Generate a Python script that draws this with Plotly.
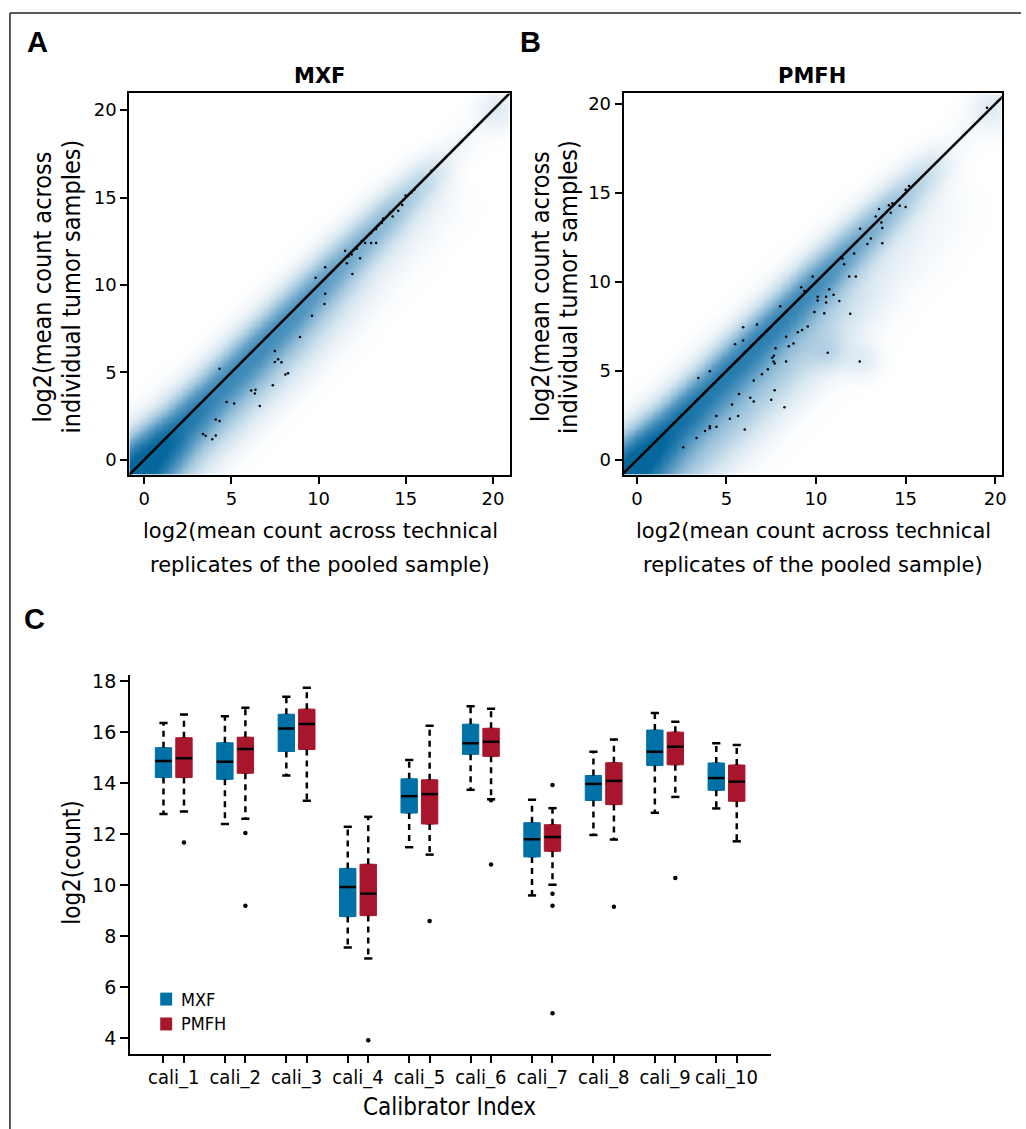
import numpy as np
import plotly.graph_objects as go

W, H = 1026, 1129

# ---------------- Panel A / B: density bands ----------------
band_pos = [-1, 0, 1, 2, 4, 6, 8, 10, 12, 14, 16, 17.5, 19, 21]
mxf_core = [1.0, 1.0, 0.88, 0.75, 0.62, 0.6, 0.58, 0.54, 0.48, 0.4, 0.26, 0.08, 0.02, 0.02]
mxf_sd = [1.6, 1.6, 1.5, 1.4, 1.35, 1.35, 1.3, 1.3, 1.25, 1.2, 1.1, 1.0, 1.0, 1.0]
mxf_shoulder = [0.3, 0.3, 0.3, 0.28, 0.28, 0.27, 0.24, 0.17, 0.1, 0.08, 0.05, 0.0, 0.0, 0.0]
mxf_shoulder_off, mxf_shoulder_sd = -2.2, 1.6
mxf_blobs = [(20.2, 20.0, 0.12, 0.8)]

pmfh_core = [1.0, 1.0, 0.9, 0.8, 0.7, 0.68, 0.66, 0.62, 0.53, 0.42, 0.25, 0.06, 0.02, 0.02]
pmfh_sd = [1.6, 1.6, 1.5, 1.4, 1.35, 1.35, 1.3, 1.3, 1.25, 1.2, 1.1, 1.0, 1.0, 1.0]
pmfh_shoulder = [0.35, 0.35, 0.35, 0.35, 0.35, 0.33, 0.3, 0.22, 0.12, 0.08, 0.04, 0.0, 0.0, 0.0]
pmfh_shoulder_off, pmfh_shoulder_sd = -2.8, 1.9
pmfh_blobs = [(10.8, 6.0, 0.12, 0.7), (12.6, 5.6, 0.12, 0.7), (19.8, 19.8, 0.12, 0.9)]

# sparse points (low-density genes)
mxf_px = [4.32, 4.72, 5.16, 4.10, 4.32, 3.37, 3.52, 3.90, 4.10, 6.13, 6.38, 6.34, 6.63, 7.37, 7.49, 7.49,
          7.68, 7.87, 8.10, 8.25, 8.93, 9.62, 9.83, 10.38, 10.38, 10.34, 11.52, 11.71, 11.90, 11.62, 11.94,
          12.38, 12.19, 12.48, 12.67, 13.01, 13.30, 13.30, 13.01, 13.43, 13.71, 13.62, 14.10, 14.25, 14.57,
          14.80, 14.99, 15.33, 15.49, 16.48]
mxf_py = [5.21, 3.31, 3.22, 2.31, 2.22, 1.48, 1.37, 1.18, 1.39, 3.97, 4.01, 3.79, 3.07, 4.27, 6.23, 5.60,
          5.75, 5.58, 4.88, 4.95, 7.02, 8.24, 10.41, 11.02, 9.50, 8.91, 11.96, 11.63, 11.74, 11.24, 10.63,
          11.53, 12.07, 12.51, 12.40, 12.98, 13.20, 12.40, 12.40, 13.42, 13.81, 13.55, 14.14, 13.92, 14.25,
          14.58, 15.12, 15.29, 15.45, 16.54]
pmfh_px = [2.59, 3.33, 3.80, 4.07, 4.07, 4.44, 4.44, 3.43, 4.07, 5.19, 5.31, 5.70, 5.65, 6.02, 5.48, 5.93,
           5.93, 6.70, 6.33, 6.52, 6.52, 6.98, 7.31, 7.50, 7.56, 7.63, 7.69, 7.65, 7.74, 7.69, 8.24, 8.33,
           8.48, 8.33, 8.74, 8.98, 9.22, 9.54, 8.00, 9.17, 9.35, 9.81, 9.91, 10.09, 10.09, 10.46, 10.56,
           10.56, 10.74, 10.65, 10.98, 11.30, 11.91, 11.85, 12.22, 12.13, 11.48, 11.57, 12.44, 12.46, 12.87,
           13.06, 13.33, 13.52, 13.65, 13.70, 13.70, 14.07, 14.26, 14.17, 14.67, 15.00, 15.00, 15.19, 19.54]
pmfh_py = [0.71, 1.24, 1.63, 1.78, 1.89, 1.86, 2.47, 4.61, 4.99, 2.32, 3.11, 3.71, 2.47, 1.71, 6.50, 7.46,
           6.71, 7.61, 3.49, 3.28, 4.46, 4.82, 5.10, 3.39, 5.74, 5.53, 5.42, 5.85, 6.28, 3.92, 2.96, 5.53,
           6.39, 6.92, 6.54, 7.18, 7.31, 7.50, 8.64, 9.71, 9.50, 10.31, 8.32, 9.17, 8.96, 8.25, 9.17,
           8.85, 9.60, 6.02, 9.28, 8.94, 8.21, 10.31, 10.31, 11.60, 11.32, 11.00, 5.53, 12.99, 12.13,
           12.45, 13.68, 14.11, 13.35, 13.03, 12.18, 14.32, 14.43, 13.89, 14.28, 14.21, 15.18, 15.39, 19.79]

a_xrange = [-0.855, 20.97]
a_yrange = [-0.854, 20.96]
b_xrange = [-0.74, 20.37]
b_yrange = [-0.83, 20.60]
scatter_ticks = [0, 5, 10, 15, 20]

# ---------------- Panel C: box statistics ----------------
calibrators = ["cali_1", "cali_2", "cali_3", "cali_4", "cali_5", "cali_6", "cali_7", "cali_8", "cali_9", "cali_10"]
mxf_upper = [16.36, 16.62, 17.39, 12.29, 14.91, 17.01, 13.35, 15.23, 16.75, 15.56]
mxf_q3 = [15.39, 15.58, 16.70, 10.66, 14.17, 16.31, 12.45, 14.30, 16.08, 14.79]
mxf_med = [14.87, 14.84, 16.14, 9.93, 13.49, 15.56, 11.80, 13.97, 15.23, 14.20]
mxf_q1 = [14.22, 14.15, 15.24, 8.77, 12.83, 15.13, 11.11, 13.32, 14.69, 13.72]
mxf_lower = [12.79, 12.40, 14.30, 7.56, 11.49, 13.74, 9.60, 11.97, 12.84, 13.01]

pmfh_upper = [16.69, 16.96, 17.74, 12.68, 16.25, 16.92, 13.02, 15.71, 16.41, 15.50]
pmfh_q3 = [15.78, 15.80, 16.90, 10.82, 14.13, 16.15, 12.37, 14.80, 16.00, 14.71]
pmfh_med = [14.98, 15.34, 16.32, 9.67, 13.57, 15.62, 11.89, 14.09, 15.43, 14.06]
pmfh_q1 = [14.22, 14.39, 15.32, 8.81, 12.40, 15.05, 11.33, 13.16, 14.72, 13.29]
pmfh_lower = [12.89, 12.61, 13.31, 7.13, 11.20, 13.37, 10.02, 11.79, 13.46, 11.72]

pmfh_out_group = [1, 2, 2, 4, 5, 6, 6, 7, 7, 7, 7, 8, 9]
pmfh_out_value = [11.67, 12.05, 9.20, 3.92, 8.60, 13.33, 10.81, 13.93, 9.67, 9.20, 4.98, 9.16, 10.28]

c_yticks = [4, 6, 8, 10, 12, 14, 16, 18]
c_yrange = [3.40, 18.25]
c_xrange = [-0.633, 30.65]

BLUE = "#0071A6"
RED = "#A7162D"
COND = "DejaVu Sans Condensed, Liberation Sans Narrow, Arial Narrow, sans-serif"
REG = "DejaVu Sans, Verdana, sans-serif"
BOLD = "Liberation Sans, Arial, sans-serif"


def fx(p):
    return p / W


def fy(p):
    return 1 - p / H


def density(core, sd, sh, sh_off, sh_sd, blobs, grid):
    X, Y = np.meshgrid(grid, grid)
    t = (X + Y) / 2
    d = Y - X
    a = np.interp(t, band_pos, core)
    s = np.interp(t, band_pos, sd)
    sa = np.interp(t, band_pos, sh)
    z = a * np.exp(-0.5 * (d / s) ** 2) + sa * np.exp(-0.5 * ((d - sh_off) / sh_sd) ** 2)
    for bx, by, ba, bs in blobs:
        z = z + ba * np.exp(-0.5 * ((X - bx) ** 2 + (Y - by) ** 2) / bs ** 2)
    return np.clip(z, 0, 1)


grid = np.arange(-1.0, 21.2, 0.1)
cscale = [[0, "#ffffff"], [0.05, "#f4f8fb"], [0.2, "#d2e4ef"], [0.4, "#9cc3db"],
          [0.6, "#5c9cc4"], [0.8, "#2a7eb0"], [1, "#05679c"]]

fig = go.Figure()

for xa, ya, core, sd, sh, so, ss, blobs, px, py in [
    ("x", "y", mxf_core, mxf_sd, mxf_shoulder, mxf_shoulder_off, mxf_shoulder_sd, mxf_blobs, mxf_px, mxf_py),
    ("x2", "y2", pmfh_core, pmfh_sd, pmfh_shoulder, pmfh_shoulder_off, pmfh_shoulder_sd, pmfh_blobs, pmfh_px, pmfh_py),
]:
    fig.add_trace(go.Heatmap(x=grid, y=grid, z=density(core, sd, sh, so, ss, blobs, grid),
                             colorscale=cscale, zmin=0, zmax=1, zsmooth="best", showscale=False,
                             hoverinfo="skip", xaxis=xa, yaxis=ya))
    fig.add_trace(go.Scatter(x=px, y=py, mode="markers", marker=dict(color="black", size=2.5),
                             showlegend=False, xaxis=xa, yaxis=ya, hoverinfo="skip"))
    diag = [min(grid), max(grid)]
    fig.add_trace(go.Scatter(x=diag, y=diag, mode="lines", line=dict(color="black", width=2.6),
                             showlegend=False, xaxis=xa, yaxis=ya, hoverinfo="skip"))

# ---------------- Panel C traces ----------------
n = len(calibrators)
mxf_pos = [3 * i + 1 for i in range(n)]
pmfh_pos = [3 * i + 2 for i in range(n)]
group_center = [3 * i + 1.5 for i in range(n)]
BW = 0.8

for pos, up, q3, med, q1, lo, col in [
    (mxf_pos, mxf_upper, mxf_q3, mxf_med, mxf_q1, mxf_lower, BLUE),
    (pmfh_pos, pmfh_upper, pmfh_q3, pmfh_med, pmfh_q1, pmfh_lower, RED),
]:
    wx, wy, cx, cy, mx, my = [], [], [], [], [], []
    for p, u, a3, m, a1, l in zip(pos, up, q3, med, q1, lo):
        wx += [p, p, None, p, p, None]
        wy += [a3, u, None, a1, l, None]
        cx += [p - BW / 4, p + BW / 4, None, p - BW / 4, p + BW / 4, None]
        cy += [u, u, None, l, l, None]
        mx += [p - BW / 2, p + BW / 2, None]
        my += [m, m, None]
    fig.add_trace(go.Scatter(x=wx, y=wy, mode="lines", line=dict(color="black", width=2.5, dash="6px,5px"),
                             showlegend=False, xaxis="x3", yaxis="y3", hoverinfo="skip"))
    fig.add_trace(go.Scatter(x=cx, y=cy, mode="lines", line=dict(color="black", width=2.5),
                             showlegend=False, xaxis="x3", yaxis="y3", hoverinfo="skip"))
    fig.add_trace(go.Box(x=pos, q1=q1, median=med, q3=q3, lowerfence=q1, upperfence=q3,
                         width=BW, fillcolor=col, line=dict(color=col, width=1), boxpoints=False,
                         showlegend=False, xaxis="x3", yaxis="y3", hoverinfo="skip"))
    fig.add_trace(go.Scatter(x=mx, y=my, mode="lines", line=dict(color="black", width=2.5),
                             showlegend=False, xaxis="x3", yaxis="y3", hoverinfo="skip"))

fig.add_trace(go.Scatter(x=[pmfh_pos[g - 1] for g in pmfh_out_group], y=pmfh_out_value, mode="markers",
                         marker=dict(color="black", size=4.5), showlegend=False,
                         xaxis="x3", yaxis="y3", hoverinfo="skip"))

# ---------------- Layout ----------------
sc_axis = dict(showline=True, linecolor="black", linewidth=2, mirror=True, ticks="outside",
               ticklen=7, tickwidth=1.5, tickcolor="black", showgrid=False, zeroline=False,
               tickvals=scatter_ticks, tickfont=dict(family=REG, size=18, color="black"), fixedrange=True)

a_dx = [fx(130), fx(512.3)]
b_dx = [fx(626.7), fx(1006.7)]
ab_dy = [fy(471.8), fy(88.8)]

fig.update_layout(
    width=W, height=H, margin=dict(l=0, r=0, t=0, b=0),
    paper_bgcolor="white", plot_bgcolor="white", showlegend=False, boxmode="overlay",
    xaxis=dict(sc_axis, domain=a_dx, range=a_xrange, anchor="y"),
    yaxis=dict(sc_axis, domain=ab_dy, range=a_yrange, anchor="x"),
    xaxis2=dict(sc_axis, domain=b_dx, range=b_xrange, anchor="y2"),
    yaxis2=dict(sc_axis, domain=ab_dy, range=b_yrange, anchor="x2"),
    xaxis3=dict(domain=[fx(130.7), fx(774.3)], range=c_xrange, anchor="y3", showline=True,
                linecolor="black", linewidth=2, showgrid=False, zeroline=False, ticks="",
                tickvals=group_center, ticktext=calibrators, ticklabelstandoff=4,
                tickfont=dict(family=COND, size=20, color="black"),
                minor=dict(tickvals=mxf_pos + pmfh_pos, ticks="outside", ticklen=7, tickwidth=1.5,
                           tickcolor="black", showgrid=False)),
    yaxis3=dict(domain=[fy(1053.3), fy(672.7)], range=c_yrange, anchor="x3", showline=True,
                linecolor="black", linewidth=2, showgrid=False, zeroline=False, ticks="outside",
                ticklen=8, tickwidth=1.5, tickcolor="black", tickvals=c_yticks,
                tickfont=dict(family=REG, size=19, color="black")),
)

ann = []


def text(s, x, y, font, size, bold=False, angle=0, xanchor="center"):
    ann.append(dict(text=("<b>%s</b>" % s) if bold else s, x=fx(x), y=fy(y), xref="paper", yref="paper",
                    showarrow=False, xanchor=xanchor, yanchor="middle", textangle=angle,
                    font=dict(family=font, size=size, color="black")))


text("A", 37.5, 37.5, BOLD, 29, bold=True)
text("B", 533, 37.5, BOLD, 29, bold=True)
text("C", 35, 617, BOLD, 29, bold=True)
text("MXF", 321, 71, REG, 21, bold=True)
text("PMFH", 816, 71, REG, 21, bold=True)
for cx_ in (322, 817):
    text("log2(mean count across technical", cx_, 528, REG, 21)
    text("replicates of the pooled sample)", cx_, 562, REG, 21)
for lx in ((43, 72), (543, 572)):
    text("log2(mean count across", lx[0], 283, COND, 25, angle=-90)
    text("individual tumor samples)", lx[1], 283, COND, 25, angle=-90)
text("log2(count)", 73, 862, COND, 24, angle=-90)
text("Calibrator Index", 452, 1107, COND, 24)
text("MXF", 180, 998.5, COND, 18, xanchor="left")
text("PMFH", 180, 1023.5, COND, 18, xanchor="left")

shapes = [
    dict(type="rect", xref="paper", yref="paper", x0=fx(161), x1=fx(173), y0=fy(1005), y1=fy(992),
         fillcolor=BLUE, line=dict(width=0)),
    dict(type="rect", xref="paper", yref="paper", x0=fx(161), x1=fx(173), y0=fy(1030), y1=fy(1017),
         fillcolor=RED, line=dict(width=0)),
    dict(type="line", xref="paper", yref="paper", x0=fx(10), x1=1, y0=fy(8), y1=fy(8),
         line=dict(color="#222", width=1.5)),
    dict(type="line", xref="paper", yref="paper", x0=fx(10), x1=fx(10), y0=fy(8), y1=0,
         line=dict(color="#222", width=1.5)),
]
fig.update_layout(annotations=ann, shapes=shapes)

fig.write_html("out.html", config={"displayModeBar": False},
               post_script="document.body.style.margin='0';document.body.style.overflow='hidden';")
